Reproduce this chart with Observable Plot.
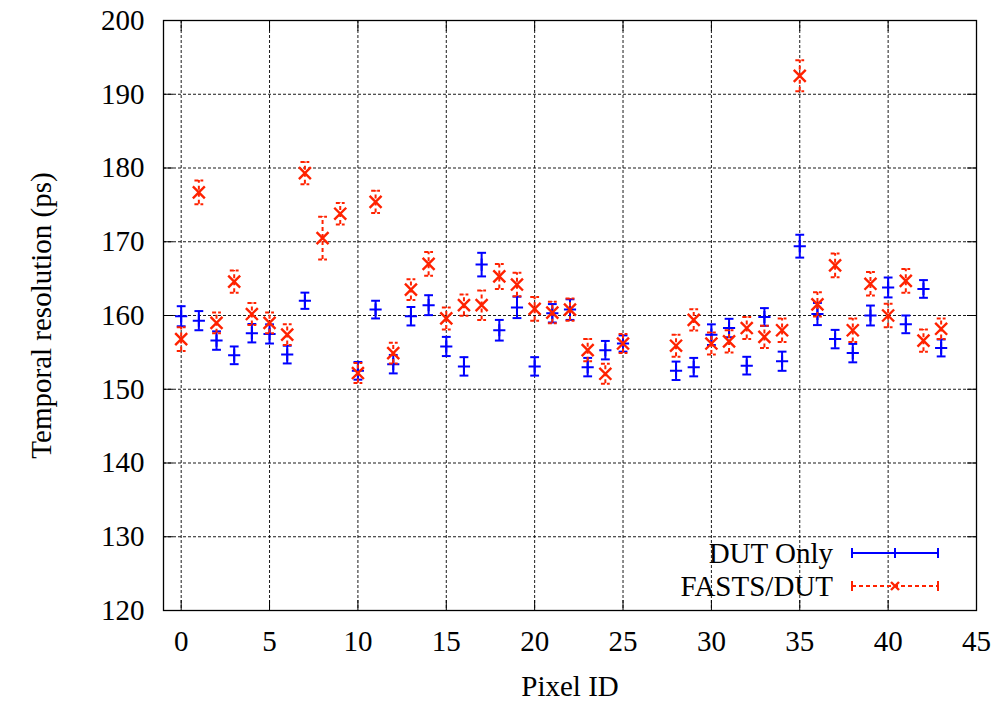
<!DOCTYPE html>
<html><head><meta charset="utf-8">
<script src="https://cdn.jsdelivr.net/npm/d3@7"></script>
<script src="https://cdn.jsdelivr.net/npm/@observablehq/plot@0.6"></script>
<style>body{margin:0;background:#fff;} #chart{width:998px;height:703px;}</style>
</head><body><div id="chart"></div>
<script>
// ---- data ----
const dutPixel = [0,1,2,3,4,5,6,7,10,11,12,13,14,15,16,17,18,19,20,21,22,23,24,25,28,29,30,31,32,33,34,35,36,37,38,39,40,41,42,43];
const dutValue = [159.9,159.3,156.6,154.6,157.6,157.5,154.7,162.0,152.5,160.8,153.4,159.9,161.4,155.8,153.1,166.9,158.0,161.1,153.1,160.3,160.8,153.0,155.3,156.2,152.5,153.0,157.4,158.3,153.2,159.8,153.8,169.4,160.2,156.8,154.9,160.0,163.8,158.8,163.6,155.6];
const dutError = [1.36,1.3,1.25,1.2,1.25,1.3,1.2,1.1,1.2,1.2,1.25,1.25,1.35,1.3,1.25,1.6,1.4,1.45,1.25,1.25,1.4,1.25,1.25,1.1,1.25,1.25,1.4,1.25,1.2,1.2,1.3,1.55,1.5,1.25,1.25,1.35,1.35,1.2,1.2,1.15];

const fastsPixel = [0,1,2,3,4,5,6,7,8,9,10,11,12,13,14,15,16,17,18,19,20,21,22,23,24,25,28,29,30,31,32,33,34,35,36,37,38,39,40,41,42,43];
const fastsValue = [156.8,176.7,159.0,164.6,160.2,159.0,157.4,179.3,170.5,173.8,152.2,175.4,154.9,163.5,167.0,159.6,161.4,161.4,165.3,164.2,160.9,160.4,160.8,155.3,152.1,156.2,155.9,159.4,156.2,156.5,158.3,157.1,158.0,192.5,161.5,166.8,158.0,164.3,160.0,164.7,156.6,158.2];
const fastsError = [1.6,1.6,1.4,1.5,1.5,1.4,1.4,1.5,2.9,1.45,1.35,1.5,1.4,1.4,1.6,1.5,1.45,2.0,1.7,1.6,1.6,1.45,1.5,1.5,1.35,1.3,1.5,1.45,1.5,1.5,1.5,1.5,1.6,2.1,1.65,1.6,1.6,1.6,1.6,1.6,1.5,1.4];

const xTicks = [0,5,10,15,20,25,30,35,40,45];
const yTicks = [120,130,140,150,160,170,180,190,200];
const seriesNames = ["DUT Only", "FASTS/DUT"];

const dut = dutPixel.map((p,i)=>({x:p, v:dutValue[i], e:dutError[i]}));
const fasts = fastsPixel.map((p,i)=>({x:p, v:fastsValue[i], e:fastsError[i]}));

const BLUE = "#0000ff", RED = "#ff2200";
const capHalf = 0.25;

const chart = Plot.plot({
  width: 998, height: 703,
  marginLeft: 163, marginRight: 22, marginTop: 20, marginBottom: 93,
  style: {fontFamily: "'Liberation Serif', 'Times New Roman', serif", fontSize: "29px", background: "#fff", color: "#000"},
  x: {domain: [-1, 45]},
  y: {domain: [120, 200]},
  marks: [
    Plot.gridX(xTicks, {stroke: "#000", strokeOpacity: 0.9, strokeDasharray: "3,2", strokeWidth: 1}),
    Plot.gridY(yTicks, {stroke: "#000", strokeOpacity: 0.9, strokeDasharray: "3,2", strokeWidth: 1}),
    Plot.axisX(xTicks, {anchor: "bottom", tickSize: -10, tickPadding: 30, label: "Pixel ID", labelAnchor: "center", labelArrow: "none", labelOffset: 85}),
    Plot.axisX(xTicks, {anchor: "top", tickSize: -10, tickFormat: () => "", label: null}),
    Plot.axisY(yTicks, {anchor: "left", tickSize: -10, tickPadding: 29, label: "Temporal resolution (ps)", labelAnchor: "center", labelArrow: "none", labelOffset: 133, fontSize: 29}),
    Plot.axisY(yTicks, {anchor: "right", tickSize: -10, tickFormat: () => "", label: null}),
    Plot.frame({stroke: "#000", strokeWidth: 1.3}),
    // DUT Only
    Plot.ruleX(dut, {x: "x", y1: d => d.v - d.e, y2: d => d.v + d.e, stroke: BLUE, strokeWidth: 2}),
    Plot.link(dut, {x1: d => d.x - capHalf, x2: d => d.x + capHalf, y1: d => d.v - d.e, y2: d => d.v - d.e, stroke: BLUE, strokeWidth: 2}),
    Plot.link(dut, {x1: d => d.x - capHalf, x2: d => d.x + capHalf, y1: d => d.v + d.e, y2: d => d.v + d.e, stroke: BLUE, strokeWidth: 2}),
    Plot.dot(dut, {x: "x", y: "v", symbol: "plus", r: 4, stroke: BLUE, strokeWidth: 2}),
    // FASTS/DUT
    Plot.ruleX(fasts, {x: "x", y1: d => d.v - d.e, y2: d => d.v + d.e, stroke: RED, strokeWidth: 2, strokeDasharray: "4,3"}),
    Plot.link(fasts, {x1: d => d.x - capHalf, x2: d => d.x + capHalf, y1: d => d.v - d.e, y2: d => d.v - d.e, stroke: RED, strokeWidth: 2, strokeDasharray: "4,2"}),
    Plot.link(fasts, {x1: d => d.x - capHalf, x2: d => d.x + capHalf, y1: d => d.v + d.e, y2: d => d.v + d.e, stroke: RED, strokeWidth: 2, strokeDasharray: "4,2"}),
    Plot.dot(fasts, {x: "x", y: "v", symbol: "times", r: 5.5, stroke: RED, strokeWidth: 2.4})
  ]
});

// legend (inside plot, bottom right)
const svg = d3.select(chart);
const lg = svg.append("g").attr("font-family", "'Liberation Serif', 'Times New Roman', serif").attr("font-size", 29);
const rows = [
  {name: seriesNames[0], color: BLUE, dash: null, y: 553, marker: "plus"},
  {name: seriesNames[1], color: RED, dash: "4,3", y: 586, marker: "times"}
];
rows.forEach(r => {
  lg.append("text").attr("x", 833).attr("y", r.y + 10).attr("text-anchor", "end").attr("fill", "#000").text(r.name);
  lg.append("line").attr("x1", 852).attr("x2", 938).attr("y1", r.y).attr("y2", r.y).attr("stroke", r.color).attr("stroke-width", 2).attr("stroke-dasharray", r.dash);
  [852, 938].forEach(x => lg.append("line").attr("x1", x).attr("x2", x).attr("y1", r.y - 5).attr("y2", r.y + 5).attr("stroke", r.color).attr("stroke-width", 2));
  if (r.marker === "plus") {
    lg.append("line").attr("x1", 895).attr("x2", 895).attr("y1", r.y - 5).attr("y2", r.y + 5).attr("stroke", r.color).attr("stroke-width", 2);
  } else {
    lg.append("path").attr("d", `M${895-4},${r.y-4}L${895+4},${r.y+4}M${895-4},${r.y+4}L${895+4},${r.y-4}`).attr("stroke", r.color).attr("stroke-width", 2.4);
  }
});

document.getElementById("chart").appendChild(chart);
</script>
</body></html>
